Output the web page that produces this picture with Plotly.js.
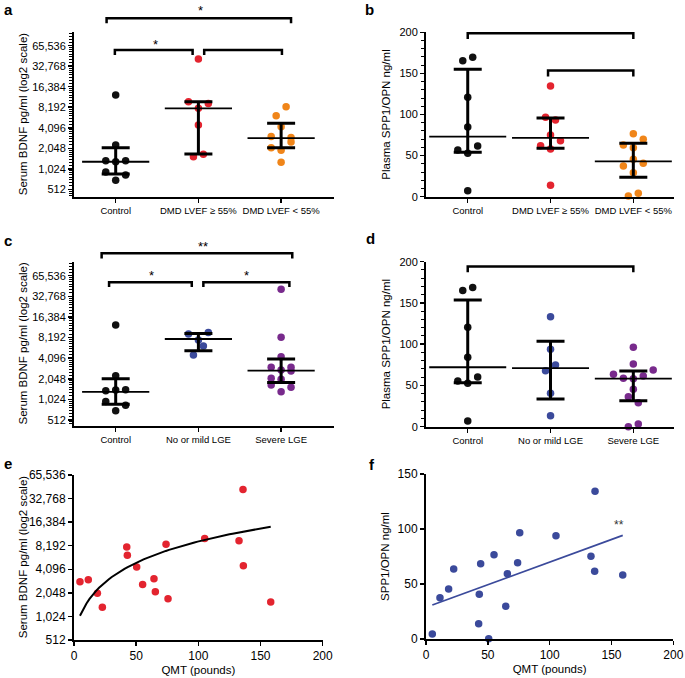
<!DOCTYPE html>
<html><head><meta charset="utf-8">
<script src="https://cdn.plot.ly/plotly-3.0.1.min.js"></script>
<style>html,body{margin:0;padding:0;background:#fff}#chart{width:685px;height:678px}</style>
</head><body><div id="chart"></div>
<script>
// ---------- categories & tick labels ----------
const catsLVEF = ['Control', 'DMD LVEF \u2265 55%', 'DMD LVEF < 55%'];
const catsLGE = ['Control', 'No or mild LGE', 'Severe LGE'];
const log2Ticks = [512, 1024, 2048, 4096, 8192, 16384, 32768, 65536];
const log2TickText = ['512', '1,024', '2,048', '4,096', '8,192', '16,384', '32,768', '65,536'];

// ---------- panel a: serum BDNF by LVEF ----------
const aControl = [12400, 2280, 1350, 1300, 1350, 923, 832, 695];
const aControlSlot = [0, 0, -1, 0, 1, -1, 1, 0];
const aPreserved = [41700, 9870, 9300, 7900, 4500, 1540, 1680];
const aPreservedSlot = [0, -1, 1, 0, 0, -0.5, 0.5];
const aReduced = [8360, 6120, 4240, 3040, 2940, 2540, 2090, 1910, 1280];
const aReducedSlot = [0.5, -0.5, 0, -1, 1, 1, -1, 0, 0];
const aMedian = [1300, 7900, 2880];
const aQ1 = [860, 1690, 2090];
const aQ3 = [2090, 9870, 4770];

// ---------- panel b: plasma SPP1/OPN by LVEF ----------
const bControl = [165.4, 169.6, 120.9, 84.8, 56.8, 52.8, 61.7, 7.3];
const bControlSlot = [-0.5, 0.5, 0, 0, -1, 0, 1, 0];
const bPreserved = [134.7, 96.6, 93.3, 75, 68, 62, 58, 13.8];
const bPreservedSlot = [0, -0.5, 0.5, 0, 1, -1, 0, 0];
const bReduced = [76.6, 69.8, 62.9, 59.6, 45.5, 37.3, 40.6, 29.2, 0.9, 4.1];
const bReducedSlot = [0, 1, -1, 0, 0, -1, 1, 0, -0.5, 0.5];
const bMedian = [73, 71.5, 43];
const bQ1 = [54, 58.9, 23.6];
const bQ3 = [155, 95.7, 65];

// ---------- panel c: serum BDNF by LGE ----------
const cControl = [12500, 2270, 1370, 1420, 1400, 950, 840, 700];
const cControlSlot = [0, 0, -1, 1, 0, -1, 1, 0];
const cMild = [9200, 9740, 7530, 6170, 4540];
const cMildSlot = [-1, 1, 0, 0.5, -0.5];
const cSevere = [41400, 8250, 4300, 3020, 3020, 2660, 2750, 2080, 2010, 1660, 1540, 1320];
const cSevereSlot = [0, 0, 0, -1, 1, 1, 0, -1, 0, -1, 1, 0];
const cMedian = [1320, 7800, 2690];
const cQ1 = [867, 5260, 1800];
const cQ3 = [2050, 9400, 3980];

// ---------- panel d: plasma SPP1/OPN by LGE ----------
const dControl = [165, 168.8, 120.5, 84, 55.4, 52.6, 60.2, 6.9];
const dControlSlot = [-0.5, 0.5, 0, 0, -1, 0, 1, 0];
const dMild = [133.3, 93.8, 74.8, 67.9, 40.5, 13.3];
const dMildSlot = [0, 0, 0.5, -0.5, 0, 0];
const dSevere = [96.2, 76, 63.5, 68.7, 58.7, 61.5, 58, 45.3, 36.4, 29.1, 0, 3.3];
const dSevereSlot = [0, 0, -2, 2, -1, 1, 0, 0, -0.5, 0.5, -0.5, 0.5];
const dMedian = [72, 71, 58.2];
const dQ1 = [53.3, 33.6, 31.5];
const dQ3 = [153.6, 103.5, 67.5];

// ---------- panel e: BDNF vs QMT ----------
const eQMT = [4.8, 11.5, 18.8, 22.8, 42.4, 42.9, 50.4, 64.3, 55.2, 65.4, 74, 75.6, 105.1, 132.7, 135.9, 136.2, 158.2];
const eBDNF = [2840, 3000, 2020, 1340, 7900, 6170, 4390, 3100, 2610, 2110, 8540, 1720, 10150, 9470, 42900, 4540, 1560];

// ---------- panel f: SPP1/OPN vs QMT ----------
const fQMT = [5.1, 11.3, 18.3, 22.4, 43.1, 42.6, 44.2, 50.7, 55, 64.5, 65.8, 74.1, 75.8, 105.1, 133.4, 136.7, 136.4, 159.1];
const fOPN = [4.5, 37.5, 45.5, 63.6, 40.6, 13.9, 68.5, 0.3, 76.7, 29.7, 59.4, 69.4, 96.7, 93.9, 75.2, 134.3, 61.5, 58.2];

// ---------- styles ----------
const FONT = 'Liberation Sans, Arial, Helvetica, sans-serif';
const BLACK = '#111111', RED = '#e3242f', ORANGE = '#f08519', BLUE = '#3b4a9b', PURPLE = '#782a8c';
const JIT = 0.12;
const BDNF_TITLE = 'Serum BDNF pg/ml (log2 scale)';

function axSuffix(n) { return n === 1 ? '' : String(n); }

function dotTrace(vals, slots, idx, color, n) {
  return {
    type: 'scatter', mode: 'markers',
    x: vals.map((v, i) => idx + slots[i] * JIT), y: vals,
    xaxis: 'x' + axSuffix(n), yaxis: 'y' + axSuffix(n),
    marker: { size: 7.5, color: color, line: { width: 0 } },
    cliponaxis: false, hoverinfo: 'skip', showlegend: false
  };
}
function statTrace(med, q1, q3, n, medW) {
  return {
    type: 'scatter', mode: 'markers',
    x: med.map((v, i) => i), y: med,
    xaxis: 'x' + axSuffix(n), yaxis: 'y' + axSuffix(n),
    marker: { symbol: 'line-ew', size: medW, color: '#000', line: { width: 1.8, color: '#000' } },
    error_y: { type: 'data', symmetric: false,
      array: q3.map((v, i) => v - med[i]), arrayminus: med.map((v, i) => v - q1[i]),
      thickness: 3, width: 14, color: '#000' },
    cliponaxis: false, hoverinfo: 'skip', showlegend: false
  };
}
function fit(xs, ys) {
  const n = xs.length;
  const mx = xs.reduce((s, v) => s + v, 0) / n, my = ys.reduce((s, v) => s + v, 0) / n;
  let sxy = 0, sxx = 0;
  xs.forEach((x, i) => { sxy += (x - mx) * (ys[i] - my); sxx += (x - mx) * (x - mx); });
  const b = sxy / sxx; return { a: my - b * mx, b: b };
}

const traces = [];
// a
traces.push(dotTrace(aControl, aControlSlot, 0, BLACK, 1));
traces.push(dotTrace(aPreserved, aPreservedSlot, 1, RED, 1));
traces.push(dotTrace(aReduced, aReducedSlot, 2, ORANGE, 1));
traces.push(statTrace(aMedian, aQ1, aQ3, 1, 48));
// b
traces.push(dotTrace(bControl, bControlSlot, 0, BLACK, 2));
traces.push(dotTrace(bPreserved, bPreservedSlot, 1, RED, 2));
traces.push(dotTrace(bReduced, bReducedSlot, 2, ORANGE, 2));
traces.push(statTrace(bMedian, bQ1, bQ3, 2, 55));
// c
traces.push(dotTrace(cControl, cControlSlot, 0, BLACK, 3));
traces.push(dotTrace(cMild, cMildSlot, 1, BLUE, 3));
traces.push(dotTrace(cSevere, cSevereSlot, 2, PURPLE, 3));
traces.push(statTrace(cMedian, cQ1, cQ3, 3, 48));
// d
traces.push(dotTrace(dControl, dControlSlot, 0, BLACK, 4));
traces.push(dotTrace(dMild, dMildSlot, 1, BLUE, 4));
traces.push(dotTrace(dSevere, dSevereSlot, 2, PURPLE, 4));
traces.push(statTrace(dMedian, dQ1, dQ3, 4, 55));
// e
const eFit = fit(eQMT, eBDNF);
const eMin = Math.min(...eQMT), eMax = Math.max(...eQMT);
const eLineX = [];
for (let k = 0; k <= 60; k++) eLineX.push(eMin + (eMax - eMin) * k / 60);
traces.push({ type: 'scatter', mode: 'markers', x: eQMT, y: eBDNF, xaxis: 'x5', yaxis: 'y5',
  marker: { size: 7.5, color: RED }, cliponaxis: false, hoverinfo: 'skip', showlegend: false });
traces.push({ type: 'scatter', mode: 'lines', x: eLineX, y: eLineX.map(x => eFit.a + eFit.b * x),
  xaxis: 'x5', yaxis: 'y5', line: { color: '#000', width: 2 }, hoverinfo: 'skip', showlegend: false });
// f
const fFit = fit(fQMT, fOPN);
const fMin = Math.min(...fQMT), fMax = Math.max(...fQMT);
traces.push({ type: 'scatter', mode: 'markers', x: fQMT, y: fOPN, xaxis: 'x6', yaxis: 'y6',
  marker: { size: 7.5, color: BLUE }, cliponaxis: false, hoverinfo: 'skip', showlegend: false });
traces.push({ type: 'scatter', mode: 'lines', x: [fMin, fMax], y: [fFit.a + fFit.b * fMin, fFit.a + fFit.b * fMax],
  xaxis: 'x6', yaxis: 'y6', line: { color: BLUE, width: 1.8 }, hoverinfo: 'skip', showlegend: false });

// ---------- axes ----------
const minorLog = [];
[256, 512, 1024, 2048, 4096, 8192, 16384, 32768, 65536].forEach(p => { for (let k = 1; k < 8; k++) minorLog.push(p * (1 + k / 8)); });

const axBase = { showline: true, linewidth: 2, linecolor: '#000', ticks: 'outside', ticklen: 4, tickwidth: 1.5,
  tickcolor: '#000', showgrid: false, zeroline: false, fixedrange: true,
  tickfont: { family: FONT, size: 11, color: '#000' } };

function catX(domain, range, cats, anchor) {
  return Object.assign({}, axBase, { domain: domain, range: range, tickmode: 'array', tickvals: [0, 1, 2],
    ticktext: cats, anchor: anchor, tickangle: 0, tickfont: { family: FONT, size: 9.5, color: '#000' } });
}
function logY(domain, range, anchor) {
  return Object.assign({}, axBase, { type: 'log', domain: domain, range: range, anchor: anchor,
    tickmode: 'array', tickvals: log2Ticks, ticktext: log2TickText,
    minor: { tickvals: minorLog, ticklen: 3, tickwidth: 1, tickcolor: '#000', ticks: 'outside' } });
}
function linY(domain, range, dtick, anchor, title, minor) {
  const o = Object.assign({}, axBase, { domain: domain, range: range, anchor: anchor, tickmode: 'linear', tick0: 0, dtick: dtick,
    title: { text: title, font: { family: FONT, size: 11.5, color: '#000' }, standoff: 6 } });
  if (minor) o.minor = { dtick: minor, ticklen: 3, tickwidth: 1, tickcolor: '#000', ticks: 'outside' };
  return o;
}

const layout = {
  width: 685, height: 678, margin: { l: 0, r: 0, t: 0, b: 0 },
  paper_bgcolor: '#fff', plot_bgcolor: '#fff', showlegend: false,
  font: { family: FONT, color: '#000' },
  xaxis: catX([0.10803, 0.48803], [-0.504, 2.643], catsLVEF, 'y'),
  yaxis: logY([0.70993, 0.95231], [2.6018, 5.0121], 'x'),
  xaxis2: catX([0.6219, 0.98438], [-0.504, 2.495], catsLVEF, 'y2'),
  yaxis2: linY([0.70993, 0.95231], [0, 200], 50, 'x2', 'Plasma SPP1/OPN ng/ml', 10),
  xaxis3: catX([0.10803, 0.48803], [-0.504, 2.643], catsLGE, 'y3'),
  yaxis3: logY([0.37168, 0.61406], [2.6217, 5.0209], 'x3'),
  xaxis4: catX([0.6219, 0.98438], [-0.504, 2.495], catsLGE, 'y4'),
  yaxis4: linY([0.37069, 0.61406], [0, 200], 50, 'x4', 'Plasma SPP1/OPN ng/ml', 10),
  xaxis5: Object.assign({}, axBase, { domain: [0.10803, 0.4711], range: [0, 200], tickmode: 'linear', tick0: 0, dtick: 50, anchor: 'y5',
    tickfont: { family: FONT, size: 12, color: '#000' },
    title: { text: 'QMT (pounds)', font: { family: FONT, size: 11.5, color: '#000' }, standoff: 4 } }),
  yaxis5: Object.assign({}, axBase, { type: 'log', domain: [0.05605, 0.29941], range: [Math.log10(512), Math.log10(65536)], anchor: 'x5',
    tickmode: 'array', tickvals: log2Ticks, ticktext: log2TickText, tickfont: { family: FONT, size: 12, color: '#000' } }),
  xaxis6: Object.assign({}, axBase, { domain: [0.6219, 0.98292], range: [0, 200], tickmode: 'linear', tick0: 0, dtick: 50, anchor: 'y6',
    tickfont: { family: FONT, size: 12, color: '#000' },
    title: { text: 'QMT (pounds)', font: { family: FONT, size: 11.5, color: '#000' }, standoff: 4 } }),
  yaxis6: Object.assign({}, axBase, { domain: [0.05752, 0.30088], range: [0, 150], tickmode: 'linear', tick0: 0, dtick: 50, anchor: 'x6',
    tickfont: { family: FONT, size: 12, color: '#000' },
    title: { text: 'SPP1/OPN ng/ml', font: { family: FONT, size: 11.5, color: '#000' }, standoff: 6 } }),
  shapes: [], annotations: []
};

// BDNF axis titles (log2 panels a, c, e) placed beside their axes
[[0.8311], [0.4929], [0.1777]].forEach(p => layout.annotations.push({ text: BDNF_TITLE, textangle: -90,
  xref: 'paper', yref: 'paper', x: 22.7 / 685, y: p[0], showarrow: false, xanchor: 'center', yanchor: 'middle',
  font: { family: FONT, size: 11.5, color: '#000' } }));

// ---------- significance brackets [x0, x1, yTop, yDrop] in (category units, axis-domain fraction) ----------
const brackets = {
  1: [[-0.11, 2.12, 1.085, 1.055], [-0.01, 0.93, 0.892, 0.862], [1.07, 2.01, 0.892, 0.862]],
  2: [[0, 2, 0.994, 0.959], [0.97, 2, 0.767, 0.732]],
  3: [[-0.17, 2.135, 1.051, 1.02], [-0.08, 0.92, 0.874, 0.846], [1.06, 2.1, 0.874, 0.846]],
  4: [[0, 2, 0.970, 0.936]]
};
const stars = {
  1: [['*', 1.02, 1.13], ['*', 0.48, 0.927]],
  3: [['**', 1.06, 1.09], ['*', 0.435, 0.917], ['*', 1.584, 0.917]]
};
Object.keys(brackets).forEach(k => {
  const n = +k;
  brackets[k].forEach(b => {
    layout.shapes.push({ type: 'path', xref: 'x' + axSuffix(n), yref: 'y' + axSuffix(n) + ' domain',
      path: `M${b[0]},${b[3]} L${b[0]},${b[2]} L${b[1]},${b[2]} L${b[1]},${b[3]}`,
      line: { color: '#000', width: 2.5 } });
  });
});
Object.keys(stars).forEach(k => {
  const n = +k;
  stars[k].forEach(s => {
    layout.annotations.push({ text: s[0], xref: 'x' + axSuffix(n), yref: 'y' + axSuffix(n) + ' domain', x: s[1], y: s[2],
      showarrow: false, xanchor: 'center', yanchor: 'middle', font: { family: FONT, size: 13, color: '#000' } });
  });
});
layout.annotations.push({ text: '**', xref: 'x6', yref: 'y6', x: 156.3, y: 104, showarrow: false,
  xanchor: 'center', yanchor: 'middle', font: { family: FONT, size: 12, color: '#333' } });

// panel letters
[['a', 0.0124, 0.9853], ['b', 0.5401, 0.9853], ['c', 0.0117, 0.646], ['d', 0.5412, 0.6475], ['e', 0.0117, 0.3171], ['f', 0.5431, 0.3156]]
  .forEach(l => layout.annotations.push({ text: '<b>' + l[0] + '</b>', xref: 'paper', yref: 'paper', x: l[1], y: l[2],
    showarrow: false, xanchor: 'center', yanchor: 'middle', font: { family: FONT, size: 15, color: '#000' } }));

Plotly.newPlot('chart', traces, layout, { displayModeBar: false, staticPlot: true });
</script></body></html>
